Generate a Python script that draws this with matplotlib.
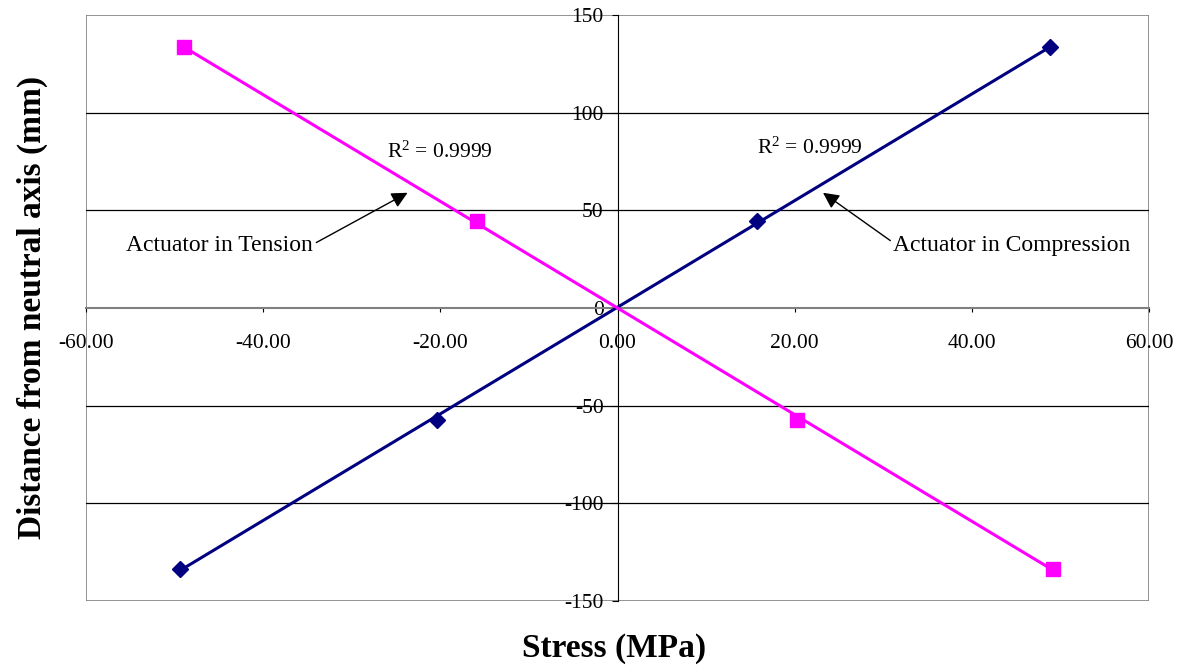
import numpy as np
import matplotlib.pyplot as plt
from matplotlib.patches import Rectangle

plt.rcParams['font.family'] = ['Liberation Serif', 'DejaVu Serif']
plt.rcParams['mathtext.fontset'] = 'custom'
plt.rcParams['mathtext.rm'] = 'Liberation Serif'

# -------------------------------
# Data
# -------------------------------
comp_stress = [-49.4, -20.4, 15.7, 48.8]
comp_dist = [-133.5, -57.1, 44.3, 133.4]

tens_stress = [-48.9, -15.9, 20.3, 49.2]
tens_dist = [133.4, 44.3, -57.1, -133.4]

r2_label = r"$\mathregular{R^2}$ = 0.9999"
x_ticks = [-60, -40, -20, 0, 20, 40, 60]
y_ticks = [-150, -100, -50, 0, 50, 100, 150]

# -------------------------------
# Plot
# -------------------------------
fig = plt.figure(figsize=(11.82, 6.68), dpi=100)
ax = fig.add_axes([86 / 1182, 1 - 601 / 668, (1149 - 86) / 1182, (601 - 15) / 668])

# linear trendlines across data range
for xs, ys, col in [(comp_stress, comp_dist, '#000080'), (tens_stress, tens_dist, '#FF00FF')]:
    k, b = np.polyfit(xs, ys, 1)
    xx = np.array([min(xs), max(xs)])
    ax.plot(xx, k * xx + b, color=col, linewidth=2.2, zorder=3)

ax.plot(comp_stress, comp_dist, linestyle='none', marker='D', markersize=8,
        color='#000080', zorder=4)
ax.plot(tens_stress, tens_dist, linestyle='none', marker='s', markersize=10,
        color='#FF00FF', zorder=4)

ax.set_xlim(-60, 60)
ax.set_ylim(-150, 150)
ax.set_xticks(x_ticks)
ax.set_xticklabels([f"{v:.2f}" for v in x_ticks])
ax.set_yticks(y_ticks)
ax.set_yticklabels([str(v) for v in y_ticks])

# gridlines
for v in [-100, -50, 50, 100]:
    ax.axhline(v, color='black', linewidth=0.9, zorder=1)

# axes crossing at the origin
ax.spines['left'].set_position(('data', 0))
ax.spines['left'].set_color('black')
ax.spines['bottom'].set_position(('data', 0))
ax.spines['bottom'].set_color('#808080')
ax.spines['bottom'].set_linewidth(1.5)
ax.spines['top'].set_visible(False)
ax.spines['right'].set_visible(False)
ax.add_patch(Rectangle((0, 0), 1, 1, transform=ax.transAxes, fill=False,
                       edgecolor='#808080', linewidth=1.2, zorder=0))

ax.tick_params(axis='y', direction='out', length=4, pad=6, labelsize=15.5)
ax.tick_params(axis='x', direction='out', length=3, pad=16, labelsize=15.5)

# annotations
ax.text(-20.0, 79.6, r2_label, fontsize=15.5, ha='center', va='center')
ax.text(21.7, 81.7, r2_label, fontsize=15.5, ha='center', va='center')

ax.text(-44.9, 32, "Actuator in Tension", fontsize=17, ha='center', va='center')
ax.text(44.5, 32, "Actuator in Compression", fontsize=17, ha='center', va='center')

arrow = dict(arrowstyle='-|>', color='black', lw=1, mutation_scale=24,
             shrinkA=0, shrinkB=0)
ax.annotate("", xy=(-23.7, 59.0), xytext=(-34.0, 33.5), arrowprops=arrow)
ax.annotate("", xy=(23.2, 59.0), xytext=(30.8, 34.5), arrowprops=arrow)

fig.text(614 / 1182, 1 - 648 / 668, "Stress (MPa)", fontsize=24, fontweight='bold',
         ha='center', va='center')
fig.text(32 / 1182, 1 - 307 / 668, "Distance from neutral axis (mm)", fontsize=24,
         fontweight='bold', ha='center', va='center', rotation=90)

fig.savefig("out.png", dpi=100)
